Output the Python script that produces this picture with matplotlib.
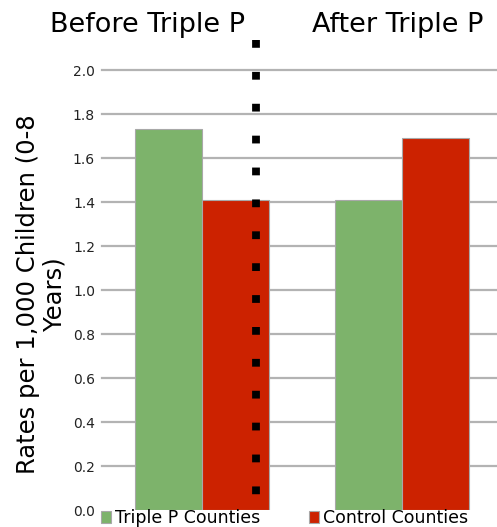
import numpy as np
import matplotlib
matplotlib.use('Agg')
import matplotlib.pyplot as plt

PERIODS = ["Before Triple P", "After Triple P"]
SERIES = ["Triple P Counties", "Control Counties"]
TRIPLE_P = [1.73, 1.41]
CONTROL = [1.41, 1.69]
YTICKS = [0.0, 0.2, 0.4, 0.6, 0.8, 1.0, 1.2, 1.4, 1.6, 1.8, 2.0]
YLABEL = "Rates per 1,000 Children (0-8\nYears)"

GREEN = '#7db36b'
RED = '#cc2200'
GRID = '#b3b3b3'

W, H = 497, 527
fig = plt.figure(figsize=(W / 100, H / 100), dpi=100)
ax = fig.add_axes([102 / W, 17 / H, 400 / W, 440 / H])

x = np.arange(len(PERIODS))
width = 1 / 3
b1 = ax.bar(x - width / 2, TRIPLE_P, width, color=GREEN,
            edgecolor='#a8a8a8', linewidth=0.8, zorder=3)
b2 = ax.bar(x + width / 2, CONTROL, width, color=RED,
            edgecolor='#a8a8a8', linewidth=0.8, zorder=3)

ax.set_xlim(-0.5, 1.5)
ax.set_ylim(0, 2.0)
ax.set_xticks([])
ax.set_yticks(YTICKS)
ax.set_yticklabels([f'{v:.1f}' for v in YTICKS], fontsize=10, color='#222222')
ax.tick_params(axis='y', length=0, pad=5)
for v in YTICKS[1:]:
    ax.axhline(v, color=GRID, lw=1.6, zorder=1, clip_on=False)
for s in ax.spines.values():
    s.set_visible(False)

ax.set_ylabel(YLABEL, fontsize=17.5, linespacing=1.1)
ax.yaxis.label.set_va('center')
ax.yaxis.set_label_coords(-0.152, 0.491)

# dotted divider between the two periods
ax.plot([0.2675, 0.2675], [2.135, 0.07], color='black', lw=5.6,
        linestyle=(0, (1, 3.1)), dash_capstyle='butt', clip_on=False, zorder=5)

fig.text(147 / W, 1 - 32.5 / H, PERIODS[0], ha='center', va='baseline', fontsize=19.5)
fig.text(398 / W, 1 - 32.5 / H, PERIODS[1], ha='center', va='baseline', fontsize=19.5)

fig.legend([b1, b2], SERIES, loc='upper left', bbox_to_anchor=(101 / W, 1 - 509 / H),
           ncol=2, frameon=False, fontsize=12.5, handlelength=0.58, handleheight=0.63,
           handletextpad=0.23, columnspacing=2.82, borderpad=0, borderaxespad=0)

fig.savefig('out.png', dpi=100)
